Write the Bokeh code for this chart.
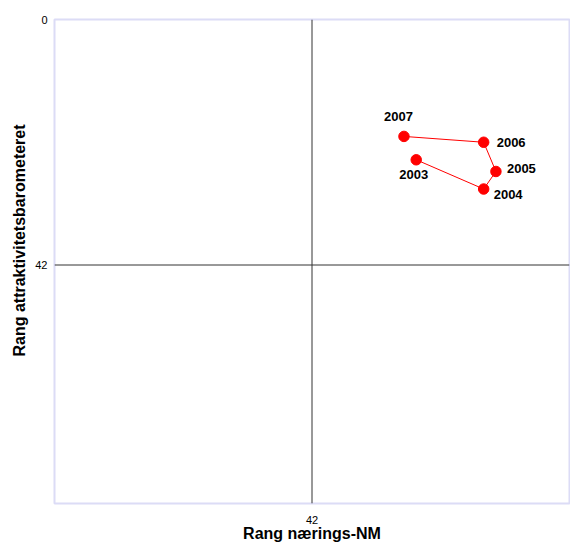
from bokeh.plotting import figure
from bokeh.models import Range1d, FixedTicker, Span, ColumnDataSource, Title
from bokeh.embed import file_html
from bokeh.resources import INLINE
from bokeh.core.properties import value

years = ["2003", "2004", "2005", "2006", "2007"]
rank_nm = [59, 70, 72, 70, 57]
rank_attr = [24, 29, 26, 21, 20]
x_ticks = [42]
y_ticks = [0, 42]
x_title = "Rang nærings-NM"
y_title = "Rang attraktivitetsbarometeret"

p = figure(width=570, height=544, output_backend="svg", toolbar_location=None,
           x_range=Range1d(0, 84), y_range=Range1d(82.8, 0),
           min_border_left=54, min_border_right=1, min_border_top=19, min_border_bottom=40)
p.grid.visible = False
p.background_fill_color = "white"
p.border_fill_color = "white"
p.outline_line_color = "#dcdcf6"
p.outline_line_width = 2

for ax in (p.xaxis[0], p.yaxis[0]):
    ax.axis_line_color = None
    ax.major_tick_line_color = None
    ax.minor_tick_line_color = None
    ax.major_tick_in = 0
    ax.major_tick_out = 0
    ax.major_label_text_font = "Liberation Sans"
    ax.major_label_text_font_size = "11px"
    ax.major_label_text_color = "black"
    ax.axis_label_text_font = "Liberation Sans"
    ax.axis_label_text_font_size = "16px"
    ax.axis_label_text_font_style = "bold"
    ax.axis_label_text_color = "black"

p.xaxis.ticker = FixedTicker(ticks=x_ticks)
p.yaxis.ticker = FixedTicker(ticks=y_ticks)
p.xaxis.axis_label = x_title
p.xaxis.major_label_standoff = 12
p.xaxis.axis_label_standoff = -2
p.yaxis.major_label_standoff = 7

ytitle = Title(text=y_title, align="left", offset=147, standoff=10,
               text_font="Liberation Sans", text_font_size="16px",
               text_font_style="bold", text_color="black")
p.add_layout(ytitle, "left")

p.add_layout(Span(location=42, dimension="height", line_color="#333333", line_width=1))
p.add_layout(Span(location=42, dimension="width", line_color="#333333", line_width=1))

src = ColumnDataSource(dict(x=rank_nm, y=rank_attr, label=years,
                            dx=[-17, 10, 11, 13, -20], dy=[15, 5, -3, 0, -20]))
p.line("x", "y", source=src, line_color="#ff0000", line_width=1)
p.scatter("x", "y", source=src, size=10.5, fill_color="#ff0000", line_color="#ff0000")
p.text("x", "y", text="label", source=src, x_offset="dx", y_offset="dy",
       text_align="left", text_baseline="middle",
       text_font=value("Liberation Sans"), text_font_size="13px", text_font_style="bold",
       text_color="black")

open("out.html", "w").write(file_html(p, INLINE))
